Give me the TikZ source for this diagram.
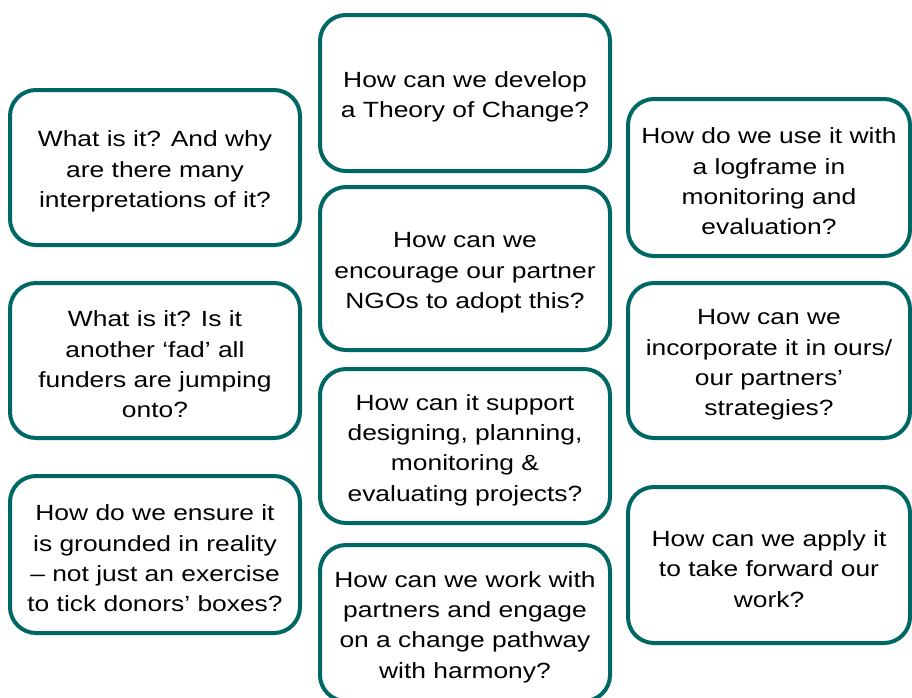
\documentclass[tikz,border=0pt]{standalone}
\usepackage{fontspec}
\setmainfont{Liberation Sans}[FakeStretch=1.2]
% a taller first line lowers each text block slightly within its box
\newcommand\topgap{\rule{0pt}{24pt}}
\begin{document}
\definecolor{tealline}{RGB}{0,104,100}
\begin{tikzpicture}[x=1pt, y=-1pt,
  qbox/.style={draw=tealline, line width=4pt, rounded corners=26pt, fill=white,
    align=center, inner sep=0pt, font=\fontsize{22}{30.3}\selectfont, text=black},
  wbox/.style={qbox, minimum width=290pt},
  rbox/.style={qbox, minimum width=282pt}]
\useasboundingbox (0,0) rectangle (912,697);
\clip (0,0) rectangle (912,697);
\fill[white] (0,0) rectangle (912,697);
% left column
\node[wbox, minimum height=155pt] (l1) at (155,167.5) {\topgap What is it? And why\\are there many\\interpretations of it?};
\node[wbox, minimum height=155pt] (l2) at (155,360.5) {\topgap What is it? Is it\\another ‘fad’ all\\funders are jumping\\onto?};
\node[wbox, minimum height=157pt] (l3) at (155,554.5) {\topgap How do we ensure it\\is grounded in reality\\– not just an exercise\\to tick donors’ boxes?};
% middle column
\node[wbox, minimum height=156pt] (m1) at (465,93) {\topgap How can we develop\\a Theory of Change?};
\node[wbox, minimum height=163pt] (m2) at (465,268.5) {\topgap How can we\\encourage our partner\\NGOs to adopt this?};
\node[wbox, minimum height=154pt] (m3) at (465,446) {\topgap How can it support\\designing, planning,\\monitoring \&\\evaluating projects?};
\node[wbox, minimum height=156pt] (m4) at (465,623) {\topgap How can we work with\\partners and engage\\on a change pathway\\with harmony?};
% right column
\node[rbox, minimum height=157pt] (r1) at (769,177.5) {\topgap How do we use it with\\a logframe in\\monitoring and\\evaluation?};
\node[rbox, minimum height=155pt] (r2) at (769,360.5) {\topgap How can we\\incorporate it in ours/\\our partners’\\strategies?};
\node[rbox, minimum height=156pt] (r3) at (769,565) {\topgap How can we apply it\\to take forward our\\work?};
\end{tikzpicture}
\end{document}
